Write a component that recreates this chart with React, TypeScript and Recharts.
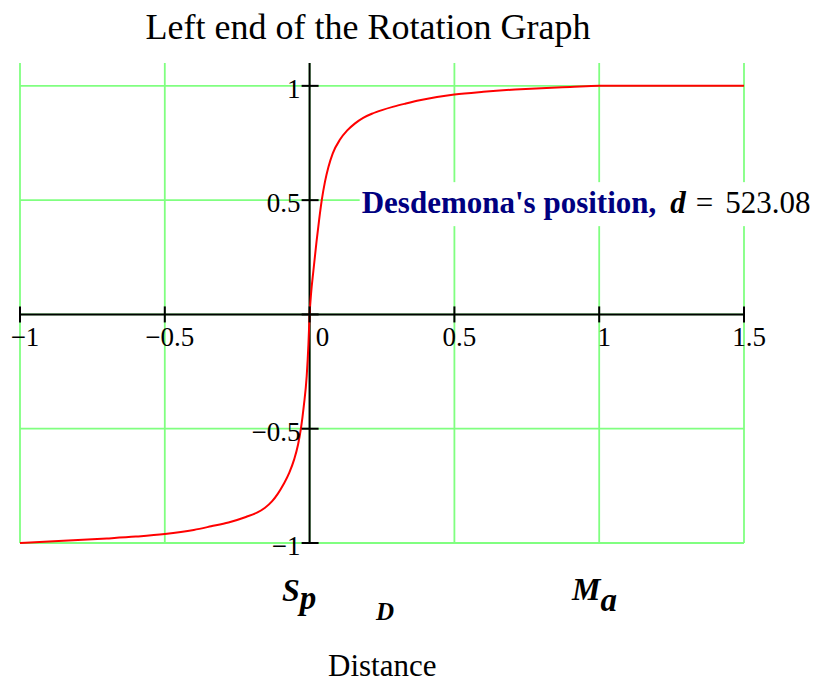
import React from 'react';
import {
  ComposedChart,
  Line,
  Scatter,
  XAxis,
  YAxis,
  CartesianGrid,
  ReferenceLine,
  ReferenceDot,
} from 'recharts';

// curve
const curveX = [
  -1, -0.9, -0.8, -0.7, -0.6, -0.5, -0.4, -0.34, -0.28, -0.22, -0.18, -0.155, -0.13, -0.11,
  -0.09, -0.07, -0.053, -0.04, -0.03, -0.02, -0.01, -0.004, 0, 0.005, 0.013, 0.024, 0.033,
  0.042, 0.053, 0.065, 0.08, 0.105, 0.13, 0.157, 0.185, 0.215, 0.25, 0.29, 0.33, 0.38, 0.44,
  0.5, 0.6, 0.71, 0.8, 0.9, 1.0, 1.1, 1.2, 1.3, 1.4, 1.5,
];
const curveY = [
  -1, -0.993, -0.987, -0.98, -0.972, -0.961, -0.943, -0.927, -0.91, -0.886, -0.866, -0.847,
  -0.818, -0.785, -0.743, -0.692, -0.633, -0.57, -0.5, -0.4, -0.27, -0.13, 0, 0.09, 0.19, 0.32,
  0.415, 0.5, 0.58, 0.645, 0.705, 0.765, 0.805, 0.836, 0.86, 0.878, 0.894, 0.909, 0.922, 0.937,
  0.951, 0.962, 0.974, 0.984, 0.99, 0.995, 1, 1, 1, 1, 1, 1,
];

const xTicks = [-1, -0.5, 0, 0.5, 1, 1.5];
const xTickLabels = ['\u22121', '\u22120.5', '0', '0.5', '1', '1.5'];
const yTicks = [-1, -0.5, 0, 0.5, 1];
const yTickLabels = ['\u22121', '\u22120.5', '', '0.5', '1'];

const title = 'Left end of the Rotation Graph';
const xTitle = 'Distance';
const noteText = "Desdemona's position,";
const noteVar = 'd';
const noteValue = '523.08';
const noteAt = { x: 0.173, y: 0.5 };

const curve = curveX.map((x, i) => ({ x, y: curveY[i] }));
const xTickData = xTicks.map((x, i) => ({ x, y: 0, label: xTickLabels[i] }));
const yTickData = yTicks.map((y, i) => ({ x: 0, y, label: yTickLabels[i] }));

const SERIF = '"Liberation Serif", "Times New Roman", serif';
const GRID = '#80ff80';

const XTickMark = (props: any) => {
  const { cx, cy, payload } = props;
  const dx = payload.x === 0 ? 13 : 5;
  return (
    <g>
      <line x1={cx} x2={cx} y1={cy - 8} y2={cy + 8} stroke="#000" strokeWidth={2} />
      <text x={cx + dx} y={cy + 32} textAnchor="middle" fontFamily={SERIF} fontSize={27} fill="#000">
        {payload.label}
      </text>
    </g>
  );
};

const YTickMark = (props: any) => {
  const { cx, cy, payload } = props;
  return (
    <g>
      <line x1={cx - 8} x2={cx + 9} y1={cy} y2={cy} stroke="#000" strokeWidth={2} />
      <text x={cx - 9} y={cy + 12} textAnchor="end" fontFamily={SERIF} fontSize={27} fill="#000">
        {payload.label}
      </text>
    </g>
  );
};

const Note = (props: any) => {
  const { cx, cy } = props;
  return (
    <g>
      <rect x={cx} y={cy - 18} width={470} height={44} fill="#fff" />
      <text x={cx + 2} y={cy + 13} fontFamily={SERIF} fontSize={31}>
        <tspan fill="#000080" fontWeight="bold">{noteText}</tspan>
        <tspan dx={14} fill="#000" fontWeight="bold" fontStyle="italic">{noteVar}</tspan>
        <tspan dx={10} fill="#000">=</tspan>
        <tspan dx={12} fill="#000">{noteValue}</tspan>
      </text>
    </g>
  );
};

export default function App() {
  return (
    <div style={{ position: 'absolute', left: 0, top: 0, width: 836, height: 682, background: '#fff' }}>
      <ComposedChart
        width={836}
        height={682}
        margin={{ top: 63, right: 92, bottom: 139, left: 20 }}
      >
        <CartesianGrid stroke={GRID} strokeWidth={1.8} horizontal={false} />
        <XAxis type="number" dataKey="x" domain={[-1, 1.5]} ticks={xTicks} hide />
        <YAxis type="number" dataKey="y" domain={[-1, 1.1]} ticks={yTicks} hide />
        {yTicks.map((t) => (
          <ReferenceLine key={'g' + t} y={t} stroke={GRID} strokeWidth={1.8} />
        ))}
        <ReferenceLine x={0} stroke="#000" strokeWidth={2} />
        <ReferenceLine y={0} stroke="#000" strokeWidth={2} />
        <Line
          data={curve}
          dataKey="y"
          type="monotone"
          stroke="#ff0000"
          strokeWidth={2}
          dot={false}
          activeDot={false}
          isAnimationActive={false}
        />
        <Scatter data={xTickData} dataKey="y" shape={XTickMark} isAnimationActive={false} />
        <Scatter data={yTickData} dataKey="y" shape={YTickMark} isAnimationActive={false} />
        <ReferenceDot x={noteAt.x} y={noteAt.y} r={0} shape={Note} />
      </ComposedChart>
      <svg
        width={836}
        height={682}
        style={{ position: 'absolute', left: 0, top: 0, pointerEvents: 'none' }}
      >
        <text x={368} y={39} textAnchor="middle" fontFamily={SERIF} fontSize={36} fill="#000">
          {title}
        </text>
        <g fontFamily={SERIF} fontWeight="bold" fontStyle="italic" fill="#000">
          <text x={282} y={601}>
            <tspan fontSize={32}>S</tspan>
            <tspan fontSize={33} dy={8}>p</tspan>
          </text>
          <text x={376} y={620} fontSize={25}>D</text>
          <text x={572} y={600}>
            <tspan fontSize={32}>M</tspan>
            <tspan fontSize={33} dy={11}>a</tspan>
          </text>
        </g>
        <text x={328} y={676} fontFamily={SERIF} fontSize={31} fill="#000">
          {xTitle}
        </text>
      </svg>
    </div>
  );
}
